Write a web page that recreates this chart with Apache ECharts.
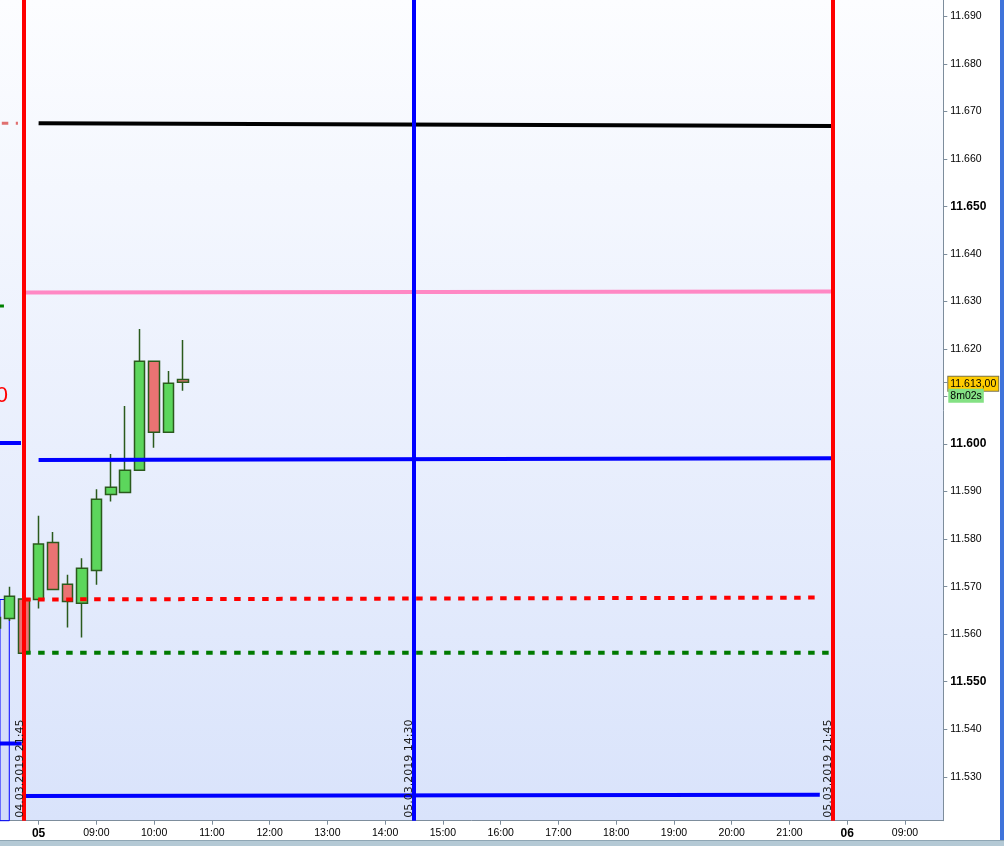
<!DOCTYPE html>
<html><head><meta charset="utf-8">
<script src="https://cdn.jsdelivr.net/npm/echarts@6/dist/echarts.min.js"></script>
<style>html,body{margin:0;padding:0;background:#fff;}#c{width:1004px;height:846px;}</style>
</head><body><div id="c"></div><script>
// x = 15-minute bar index; 0 = 05.03.2019 08:00, -1 = 04.03.2019 21:45 (session 08:00-22:00)
const barIdx   = [-3, -2, -1, 0, 1, 2, 3, 4, 5, 6, 7, 8, 9, 10];
const barTimes = ['04.03 21:15','04.03 21:30','04.03 21:45','05.03 08:00','05.03 08:15','05.03 08:30','05.03 08:45','05.03 09:00','05.03 09:15','05.03 09:30','05.03 09:45','05.03 10:00','05.03 10:15','05.03 10:30'];
const opens  = [11561.3, 11563.3, 11567.4, 11567.3, 11579.3, 11570.5, 11566.5, 11573.4, 11589.4, 11589.8, 11594.5, 11617.4, 11602.5, 11613.6];
const closes = [11563.5, 11568.0, 11556.0, 11579.0, 11569.4, 11566.9, 11573.9, 11588.4, 11590.9, 11594.5, 11617.4, 11602.5, 11612.8, 11613.0];
const lows   = [11560.5, 11562.8, 11556.0, 11565.4, 11569.4, 11561.4, 11559.3, 11570.4, 11587.9, 11589.8, 11594.5, 11599.2, 11602.5, 11611.2];
const highs  = [11564.5, 11570.0, 11567.4, 11584.9, 11581.5, 11572.5, 11576.0, 11590.5, 11597.9, 11608.0, 11624.2, 11617.4, 11615.4, 11621.9];

// horizontal drawing lines (start/end bar index and price)
const hStartIdx = [0, -1, 0, -1, -1, -1, -20, -20, -20, -20];
const hStartVal = [11667.5, 11631.9, 11596.65, 11525.96, 11567.3, 11556.1, 11667.5, 11629.05, 11600.2, 11537.0];
const hEndIdx   = [55, 55, 55, 54.1, 53.8, 55, -1.43, -2.4, -1.22, -1.17];
const hEndVal   = [11666.9, 11632.1, 11597.0, 11526.23, 11567.7, 11556.1, 11667.5, 11629.05, 11600.2, 11537.0];

// vertical time lines
const vIdx    = [-1, 26, 55];
const vLabels = ['04.03.2019 21:45', '05.03.2019 14:30', '05.03.2019 21:45'];

// axis ticks
const xTickIdx    = [0, 4, 8, 12, 16, 20, 24, 28, 32, 36, 40, 44, 48, 52, 56, 60];
const xTickLabels = ['05','09:00','10:00','11:00','12:00','13:00','14:00','15:00','16:00','17:00','18:00','19:00','20:00','21:00','06','09:00'];
const yTickVals   = [11530, 11540, 11550, 11560, 11570, 11580, 11590, 11600, 11610, 11620, 11630, 11640, 11650, 11660, 11670, 11680, 11690];
const yLabelVals  = [11530, 11540, 11550, 11560, 11570, 11580, 11590, 11600, 11620, 11630, 11640, 11650, 11660, 11670, 11680, 11690];

// annotations
const lastPrice = 11613.0;
const lastPriceLabel = '11.613,00';
const countdownLabel = '8m02s';
const boxArea = [[-10, 11567.3], [-2.03, 11520.76]];
const redText = '11.610';
const redTextPos = [-2.12, 11610.1];

const X_MIN = -2.673, X_MAX = 62.653, Y_MIN = 11520.76, Y_MAX = 11693.43;

// styles
const hColors = ['#000000', '#ff88c4', '#0000ff', '#0000ff', '#ff0000', '#007a00', '#e07070', '#008000', '#0000ff', '#0000ff'];
const hWidths = [4, 4, 4, 4, 4, 4, 3, 3, 4, 4];
const hDashed = [false, false, false, false, true, true, true, false, false, false];
const vColors = ['#ff0000', '#0000ff', '#ff0000'];

const chart = echarts.init(document.getElementById('c'), null, {renderer: 'canvas'});

const candleData = barIdx.map((x, i) => [x, opens[i], closes[i], lows[i], highs[i]]);

const series = [{
  type: 'candlestick',
  name: 'FDAX',
  data: candleData,
  encode: {x: 0, y: [1, 2, 3, 4]},
  barWidth: 11,
  z: 2,
  itemStyle: {color: '#5cd65c', color0: '#ea7373', borderColor: '#2a5a1c', borderColor0: '#2a5a1c', borderWidth: 1.5}
}];

hStartIdx.forEach((s, i) => {
  series.push({
    type: 'line', silent: true, z: 3,
    data: [[s, hStartVal[i]], [hEndIdx[i], hEndVal[i]]],
    showSymbol: false, symbol: 'none',
    lineStyle: {color: hColors[i], width: hWidths[i], type: hDashed[i] ? [6.5, 7.5] : 'solid', cap: 'butt'}
  });
});

series.push({
  type: 'line', silent: true, z: 4, data: [],
  markArea: {
    silent: true,
    itemStyle: {color: 'rgba(0,0,230,0.035)', borderColor: '#0000ff', borderWidth: 1},
    data: [[{coord: boxArea[0]}, {coord: boxArea[1]}]]
  },
  markPoint: {
    silent: true, symbol: 'circle', symbolSize: 0,
    data: [{coord: redTextPos, value: redText}],
    label: {show: true, position: 'left', distance: 0, formatter: redText, color: '#ff0000', fontSize: 22, fontFamily: 'Liberation Sans'}
  },
  markLine: {
    silent: true, symbol: ['none', 'none'], animation: false,
    data: vIdx.map((x, i) => [
      {coord: [x, Y_MIN], lineStyle: {color: vColors[i], width: 4, type: 'solid'},
       label: {show: true, position: 'insideStartTop', distance: [3, -1], formatter: vLabels[i], color: '#1a1a1a', fontSize: 11, fontFamily: 'DejaVu Sans'}},
      {coord: [x, Y_MAX]}
    ])
  }
});

// last price / countdown tag on the price axis
series.push({
  type: 'line', silent: true, z: 6, data: [],
  markLine: {
    silent: true, symbol: ['none', 'none'], animation: false,
    lineStyle: {width: 1, color: 'rgba(0,0,0,0)'},
    label: {
      show: true, position: 'end', distance: 5,
      padding: [15, 0, 0, 0],
      formatter: '{p|' + lastPriceLabel + '}\n{t|' + countdownLabel + '}',
      rich: {
        p: {backgroundColor: '#ffcc00', borderColor: '#7a7450', borderWidth: 1, padding: [2, 2, 1, 2], fontSize: 10.5, fontFamily: 'Liberation Sans', color: '#000', lineHeight: 12},
        t: {backgroundColor: '#84e184', padding: [2, 2, 1, 2], fontSize: 10.5, fontFamily: 'Liberation Sans', color: '#000', lineHeight: 12}
      }
    },
    data: [{yAxis: lastPrice}]
  }
});

const axisGrey = '#7d8d9c';
chart.setOption({
  animation: false,
  backgroundColor: '#ffffff',
  grid: {
    left: 0, right: 60.7, top: 0, bottom: 25.3, containLabel: false, outerBoundsMode: 'none',
    show: true, borderWidth: 0,
    backgroundColor: {type: 'linear', x: 0, y: 0, x2: 0, y2: 1, colorStops: [{offset: 0, color: '#fcfdff'}, {offset: 1, color: '#d9e3fb'}]}
  },
  xAxis: {
    type: 'value', min: X_MIN, max: X_MAX,
    axisLine: {show: true, onZero: false, lineStyle: {color: axisGrey, width: 1}},
    axisTick: {show: true, length: 4, customValues: xTickIdx, lineStyle: {color: axisGrey}},
    splitLine: {show: false},
    axisLabel: {
      customValues: xTickIdx, margin: 7, fontSize: 10.5, fontFamily: 'Liberation Sans', color: '#000',
      formatter: v => {
        const i = xTickIdx.indexOf(Math.round(v));
        if (i < 0) return '';
        const t = xTickLabels[i];
        return t.length === 2 ? '{b|' + t + '}' : t;
      },
      rich: {b: {fontWeight: 'bold', fontSize: 12, fontFamily: 'Liberation Sans', color: '#000'}}
    }
  },
  yAxis: {
    type: 'value', position: 'right', min: Y_MIN, max: Y_MAX,
    axisLine: {show: true, onZero: false, lineStyle: {color: axisGrey, width: 1}},
    axisTick: {show: true, length: 4, customValues: yTickVals.concat([lastPrice]), lineStyle: {color: axisGrey}},
    splitLine: {show: false},
    axisLabel: {
      customValues: yLabelVals, margin: 7, fontSize: 10.5, fontFamily: 'Liberation Sans', color: '#000',
      formatter: v => {
        const s = (v / 1000).toFixed(3);
        return Math.round(v) % 50 === 0 ? '{b|' + s + '}' : s;
      },
      rich: {b: {fontWeight: 'bold', fontSize: 12, fontFamily: 'Liberation Sans', color: '#000'}}
    }
  },
  graphic: [
    {type: 'rect', shape: {x: 1000, y: 0, width: 4, height: 841}, style: {fill: '#3f73da'}, silent: true},
    {type: 'rect', shape: {x: 0, y: 840, width: 1004, height: 6}, style: {fill: '#b4c9d5'}, silent: true},
    {type: 'rect', shape: {x: 0, y: 840, width: 1004, height: 1}, style: {fill: '#8fa6b4'}, silent: true}
  ],
  series: series
});
</script></body></html>
